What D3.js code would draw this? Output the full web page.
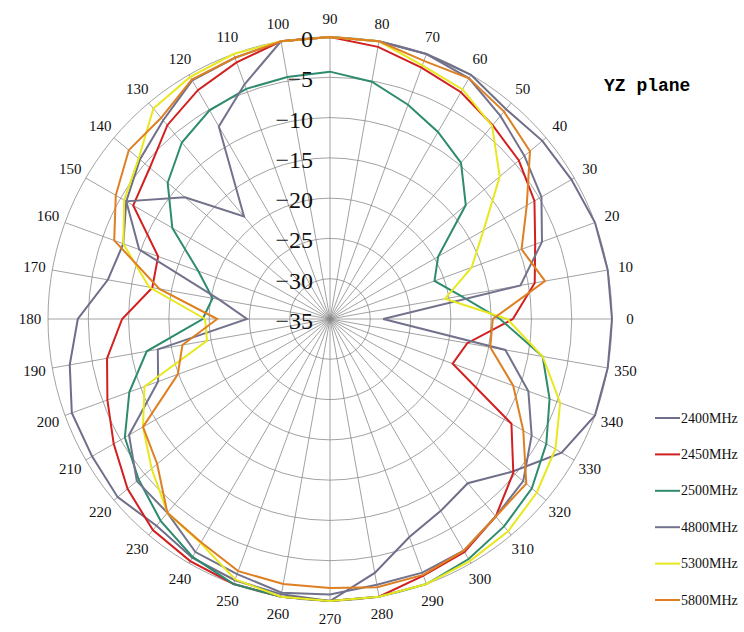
<!DOCTYPE html>
<html><head><meta charset="utf-8">
<script src="https://cdn.jsdelivr.net/npm/d3@7"></script>
<style>body{margin:0;background:#fff}</style></head>
<body><svg id="c" width="744" height="632"></svg>
<script>
const angles = d3.range(0, 360, 10);
const seriesNames = ["2400MHz","2450MHz","2500MHz","4800MHz","5300MHz","5800MHz"];
const colors = ["#6e6e8a","#d21f1f","#2e8b6e","#72728c","#e8e820","#de7f22"];
const ringTicks = [0,-5,-10,-15,-20,-25,-30,-35];
// values at 0,10,...,350 degrees
const s2400 = [0,0,0,-0.4,-0.6,-1,0,0,0,0, 0,-0.5,-0.8,-2.8,-4.2,-5.8,-7.7,-7,-3.7,-2.2, -0.9,-0.9,-0.6,-1.5,-0.8,-0.5,-0.3,0,-3,-6.2, -7.5,-8.4,-5.5,-1.8,0,0];
const s2450 = [-12.3,-9.2,-7.9,-5.7,-4.4,-3.6,-2.5,-1.8,-0.7,0, 0,-1.1,-2.2,-3.6,-5.8,-6.8,-12.3,-12.6,-9.2,-6.9, -5.6,-4,-2.2,-0.8,-0.3,0,0,0,0,-1.1, -1.6,-3,-5.3,-9,-18.8,-17.7];
const s2500 = [-13.9,-18.5,-21.2,-19.5,-13,-9.7,-8.2,-6.7,-5.1,-4.3, -4.5,-4.6,-5.1,-6.4,-8.7,-12.4,-17.6,-20.2,-19.2,-11.9, -8.5,-5.6,-4,-2.3,-0.9,0,0,0,0,0, -0.6,-1.4,-2.3,-4,-6,-8.2];
const s4800 = [-28.4,-11,-7,-4.7,-3.5,-2.1,-0.5,0,0,0, 0,-4,-7.4,-18.4,-11.5,-5.8,-9.8,-21,-24.7,-13.3, -12.3,-6.2,-3.7,-3.6,-1.6,-1.3,-0.5,-0.8,-1.5,-1.5, -1.8,-3,-3.7,-6.1,-8.8,-12.9];
const s5300 = [-13,-20.5,-16.3,-13,-7.5,-3.7,-2.1,-1.5,0,0, 0,0,-0.3,-0.9,-4,-5.5,-7.7,-12.2,-19.5,-19.5, -10.5,-8.2,-6.1,-3.6,-2.9,-0.6,0,0,0,0, -0.3,-0.6,-1.5,-2.7,-4.6,-8.2];
const s5800 = [-14.8,-7.9,-9.7,-6.8,-2.6,-1.4,-0.5,-0.9,0,0, 0,-0.5,-0.7,-2.4,-2.4,-4.3,-6.5,-13.5,-21,-16.4, -14.9,-8.2,-7,-3.6,-3,-1.7,-1.6,-1.6,-1.2,-1.2, -1.8,-3,-3.2,-7.3,-10.8,-14.8];
const allSeries = [s2400,s2450,s2500,s4800,s5300,s5800];

const svg = d3.select("#c");
const cx = 330, cy = 319;
const r = d3.scaleLinear().domain([-35, 0]).range([0, 282]).clamp(true);
const ang = d => -d * Math.PI / 180;
const g = svg.append("g").attr("transform", `translate(${cx},${cy})`);

// rings
g.selectAll("circle.ring").data(ringTicks.filter(t => t > -35)).enter().append("circle")
  .attr("r", d => r(d)).attr("fill", "none").attr("stroke", "#8a8a8a").attr("stroke-width", 0.8);
// spokes
g.selectAll("line.spoke").data(angles).enter().append("line")
  .attr("x1", 0).attr("y1", 0)
  .attr("x2", d => r(0) * Math.cos(ang(d))).attr("y2", d => r(0) * Math.sin(ang(d)))
  .attr("stroke", "#8a8a8a").attr("stroke-width", 0.8);
// angle labels
g.selectAll("text.ang").data(angles).enter().append("text")
  .attr("x", d => 300 * Math.cos(ang(d))).attr("y", d => 300 * Math.sin(ang(d)))
  .attr("text-anchor", "middle").attr("dominant-baseline", "central")
  .attr("font-family", "Liberation Serif, serif").attr("font-size", 15).attr("fill", "#111")
  .text(d => d);

// series
const line = d3.lineRadial().angle(d => Math.PI / 2 - d[0] * Math.PI / 180).radius(d => r(d[1])).curve(d3.curveLinearClosed);
allSeries.forEach((s, i) => {
  g.append("path").datum(angles.map((a, j) => [a, s[j]]))
    .attr("d", line).attr("fill", "none").attr("stroke", colors[i]).attr("stroke-width", 2);
});

// ring labels
g.selectAll("text.rl").data(ringTicks).enter().append("text")
  .attr("x", -17).attr("y", d => -r(d) + 2)
  .attr("text-anchor", "end").attr("dominant-baseline", "central")
  .attr("font-family", "Liberation Serif, serif").attr("font-size", 24).attr("fill", "#111")
  .text(d => d === 0 ? "0" : "\u2212" + Math.abs(d));

// title
svg.append("text").attr("x", 604).attr("y", 91).attr("font-family", "Liberation Mono, monospace")
  .attr("font-weight", "bold").attr("font-size", 18).text("YZ plane");

// legend
const lg = svg.append("g");
seriesNames.forEach((n, i) => {
  const y = 418 + i * 36.4;
  lg.append("line").attr("x1", 655).attr("x2", 680).attr("y1", y).attr("y2", y).attr("stroke", colors[i]).attr("stroke-width", 2);
  lg.append("text").attr("x", 681).attr("y", y).attr("dominant-baseline", "central")
    .attr("font-family", "Liberation Serif, serif").attr("font-size", 14).attr("fill", "#111").text(n);
});
</script></body></html>
